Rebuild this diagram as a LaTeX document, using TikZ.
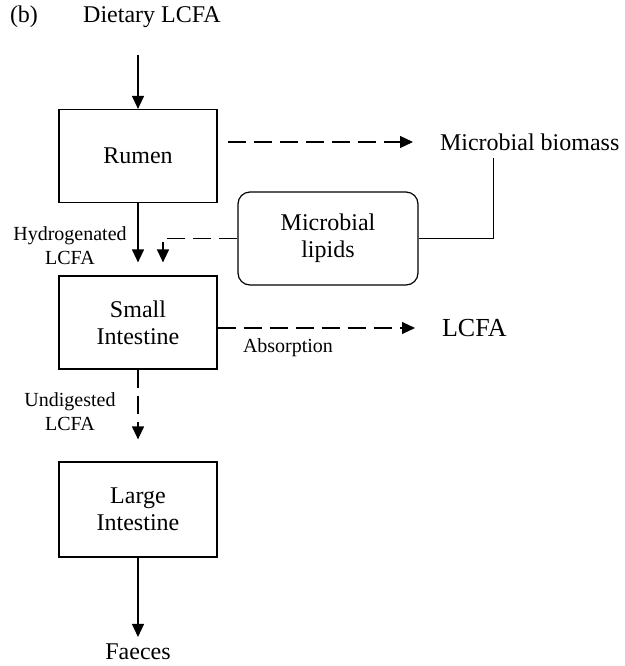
\documentclass[tikz,border=0pt]{standalone}
\usepackage{fontspec}
\setmainfont{Liberation Serif}
\usetikzlibrary{arrows.meta}
\tikzset{
  organ/.style={draw,line width=0.6pt,minimum width=79pt,minimum height=46.5pt,align=center,font=\fontsize{12}{13.5}\selectfont},
  pool/.style={organ,rounded corners=6pt,minimum width=90pt},
  txt/.style={font=\fontsize{12}{14}\selectfont},
  small label/.style={align=center,font=\fontsize{10}{12}\selectfont},
  flow/.style={->,line width=0.6pt},
  broken/.style={flow,dash pattern=on 9pt off 4pt}
}
\begin{document}
\begin{tikzpicture}[>={Triangle[length=6.5pt,width=6pt]},x=0.5pt,y=-0.5pt]
		\useasboundingbox (0,0) rectangle (625,666);
		% top inputs
		\node[txt] (tag) at (24,17) {(b)};
		\node[txt] (diet) at (152,17) {Dietary LCFA};
		% compartments
		\node[organ] (rumen) at (138,156) {Rumen};
		\node[pool] (lipids) at (328,238.5) {Microbial\\lipids};
		\node[organ] (small) at (138,322.5) {Small\\Intestine};
		\node[organ,minimum height=47.5pt] (large) at (138,509.5) {Large\\Intestine};
		% outputs
		\node[txt,anchor=west] (biomass) at (433,142) {Microbial biomass};
		\node[txt,anchor=west,font=\fontsize{13}{15}\selectfont] (lcfa) at (435,328) {LCFA};
		\node[txt] (faeces) at (138,652) {Faeces};
		% flow labels
		\node[small label] (hydro) at (70,246) {Hydrogenated\\LCFA};
		\node[small label] (undig) at (70,412) {Undigested\\LCFA};
		\node[small label] (absorb) at (288,348) {Absorption};
		% connectors
		\draw[flow,shorten <=10pt] (diet.south -| rumen.north) -- (rumen.north);
		\draw[broken,shorten <=5pt,shorten >=10pt] (rumen.east |- biomass.west) -- (biomass.west);
		\draw[line width=0.6pt] (lipids.east) -| ([xshift=-18pt]biomass.south);
		\draw[flow] (rumen.south) -- ([yshift=6.5pt]small.north);
		\draw[broken] (lipids.west) -| ([xshift=12.5pt,yshift=6.5pt]small.north);
		\draw[broken,shorten >=10pt] (small.east |- lcfa.west) -- (lcfa.west);
		\draw[broken] (small.south) -- ([yshift=11pt]large.north);
		\draw[flow] (large.south) -- (faeces.north);
\end{tikzpicture}
\end{document}
